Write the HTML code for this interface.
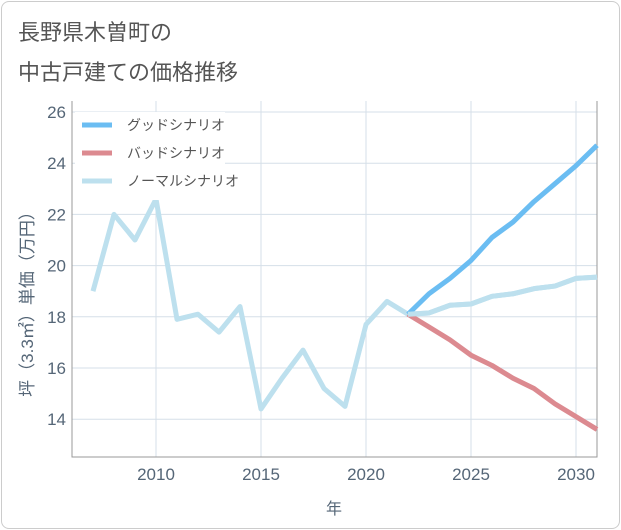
<!DOCTYPE html>
<html><head><meta charset="utf-8"><style>
body{margin:0;background:#fff;font-family:"Liberation Sans","Noto Sans CJK JP",sans-serif}
#frame{position:absolute;left:1px;top:1px;width:617px;height:526px;border:1px solid #ccc;border-radius:8px;background:#fff}
.title{position:absolute;left:18px;font-size:22px;color:#555}
</style></head><body>
<div id="frame"></div>
<div class="title" style="top:15px">長野県木曽町の</div>
<div class="title" style="top:55px">中古戸建ての価格推移</div>
<svg id="c" width="621" height="530" style="position:absolute;left:0;top:0"></svg>
<script>
const years=[2007,2008,2009,2010,2011,2012,2013,2014,2015,2016,2017,2018,2019,2020,2021,2022,2023,2024,2025,2026,2027,2028,2029,2030,2031];
const normal=[19.0,22.0,21.0,22.6,17.9,18.1,17.4,18.4,14.4,15.6,16.7,15.2,14.5,17.7,18.6,18.1,18.15,18.45,18.5,18.8,18.9,19.1,19.2,19.5,19.55];
const goodYears=[2022,2023,2024,2025,2026,2027,2028,2029,2030,2031];
const good=[18.1,18.9,19.5,20.2,21.1,21.7,22.5,23.2,23.9,24.7];
const bad=[18.1,17.6,17.1,16.5,16.1,15.6,15.2,14.6,14.1,13.6];
const xTicks=[2010,2015,2020,2025,2030];
const yTicks=[14,16,18,20,22,24,26];
const L=72,R=597,T=101,B=457;
const X=v=>L+(v-2006)*(R-L)/25;
const Y=v=>112+(26-v)*25.6;
const s=document.getElementById('c'),NS='http://www.w3.org/2000/svg';
function el(t,a,p){const e=document.createElementNS(NS,t);for(const k in a)e.setAttribute(k,a[k]);(p||s).appendChild(e);return e;}
xTicks.forEach(t=>{const g=el('line',{x1:X(t),x2:X(t),y1:T,y2:B,stroke:'#d5dfe8','stroke-width':1});

const tx=el('text',{x:X(t),y:480,'text-anchor':'middle','font-size':17,fill:'#556677'});tx.textContent=t;
});
yTicks.forEach(t=>{const g=el('line',{x1:L,x2:R,y1:Y(t),y2:Y(t),stroke:'#d5dfe8','stroke-width':1});

const tx=el('text',{x:66,y:Y(t)+6,'text-anchor':'end','font-size':17,fill:'#556677'});tx.textContent=t;
});
const ax=el('path',{d:`M${L},${T}V${B}H${R}V${T}`,fill:'none',stroke:'#999','stroke-width':1});

function line(xs,ys,col,name){const p=el('polyline',{points:xs.map((x,i)=>X(x)+','+Y(ys[i])).join(' '),fill:'none',stroke:col,'stroke-width':5,'stroke-linejoin':'round'});
}
line(years,normal,'#bde0ee','normal-scenario-line');
line(goodYears,bad,'#dc8a90','bad-scenario-line');
line(goodYears,good,'#6bbdf2','good-scenario-line');
line(years.slice(15),normal.slice(15),'#bde0ee','normal-scenario-line-future');
const lg=el('rect',{x:75,y:112,width:150,height:88,fill:'#fff'});

[['グッドシナリオ','#6bbdf2'],['バッドシナリオ','#dc8a90'],['ノーマルシナリオ','#bde0ee']].forEach((d,i)=>{
const y=125+i*28;const l=el('line',{x1:82,x2:112,y1:y,y2:y,stroke:d[1],'stroke-width':5});

const t=el('text',{x:127,y:y+5,'font-size':14,fill:'#555'});t.textContent=d[0];
});
const xt=el('text',{x:334,y:514,'text-anchor':'middle','font-size':16,fill:'#556677'});xt.textContent='年';

const yt=el('text',{x:0,y:0,'text-anchor':'middle','font-size':17,fill:'#556677',transform:'translate(33,300) rotate(-90)'});yt.textContent='坪（3.3㎡）単価（万円）';

</script>
</body></html>
